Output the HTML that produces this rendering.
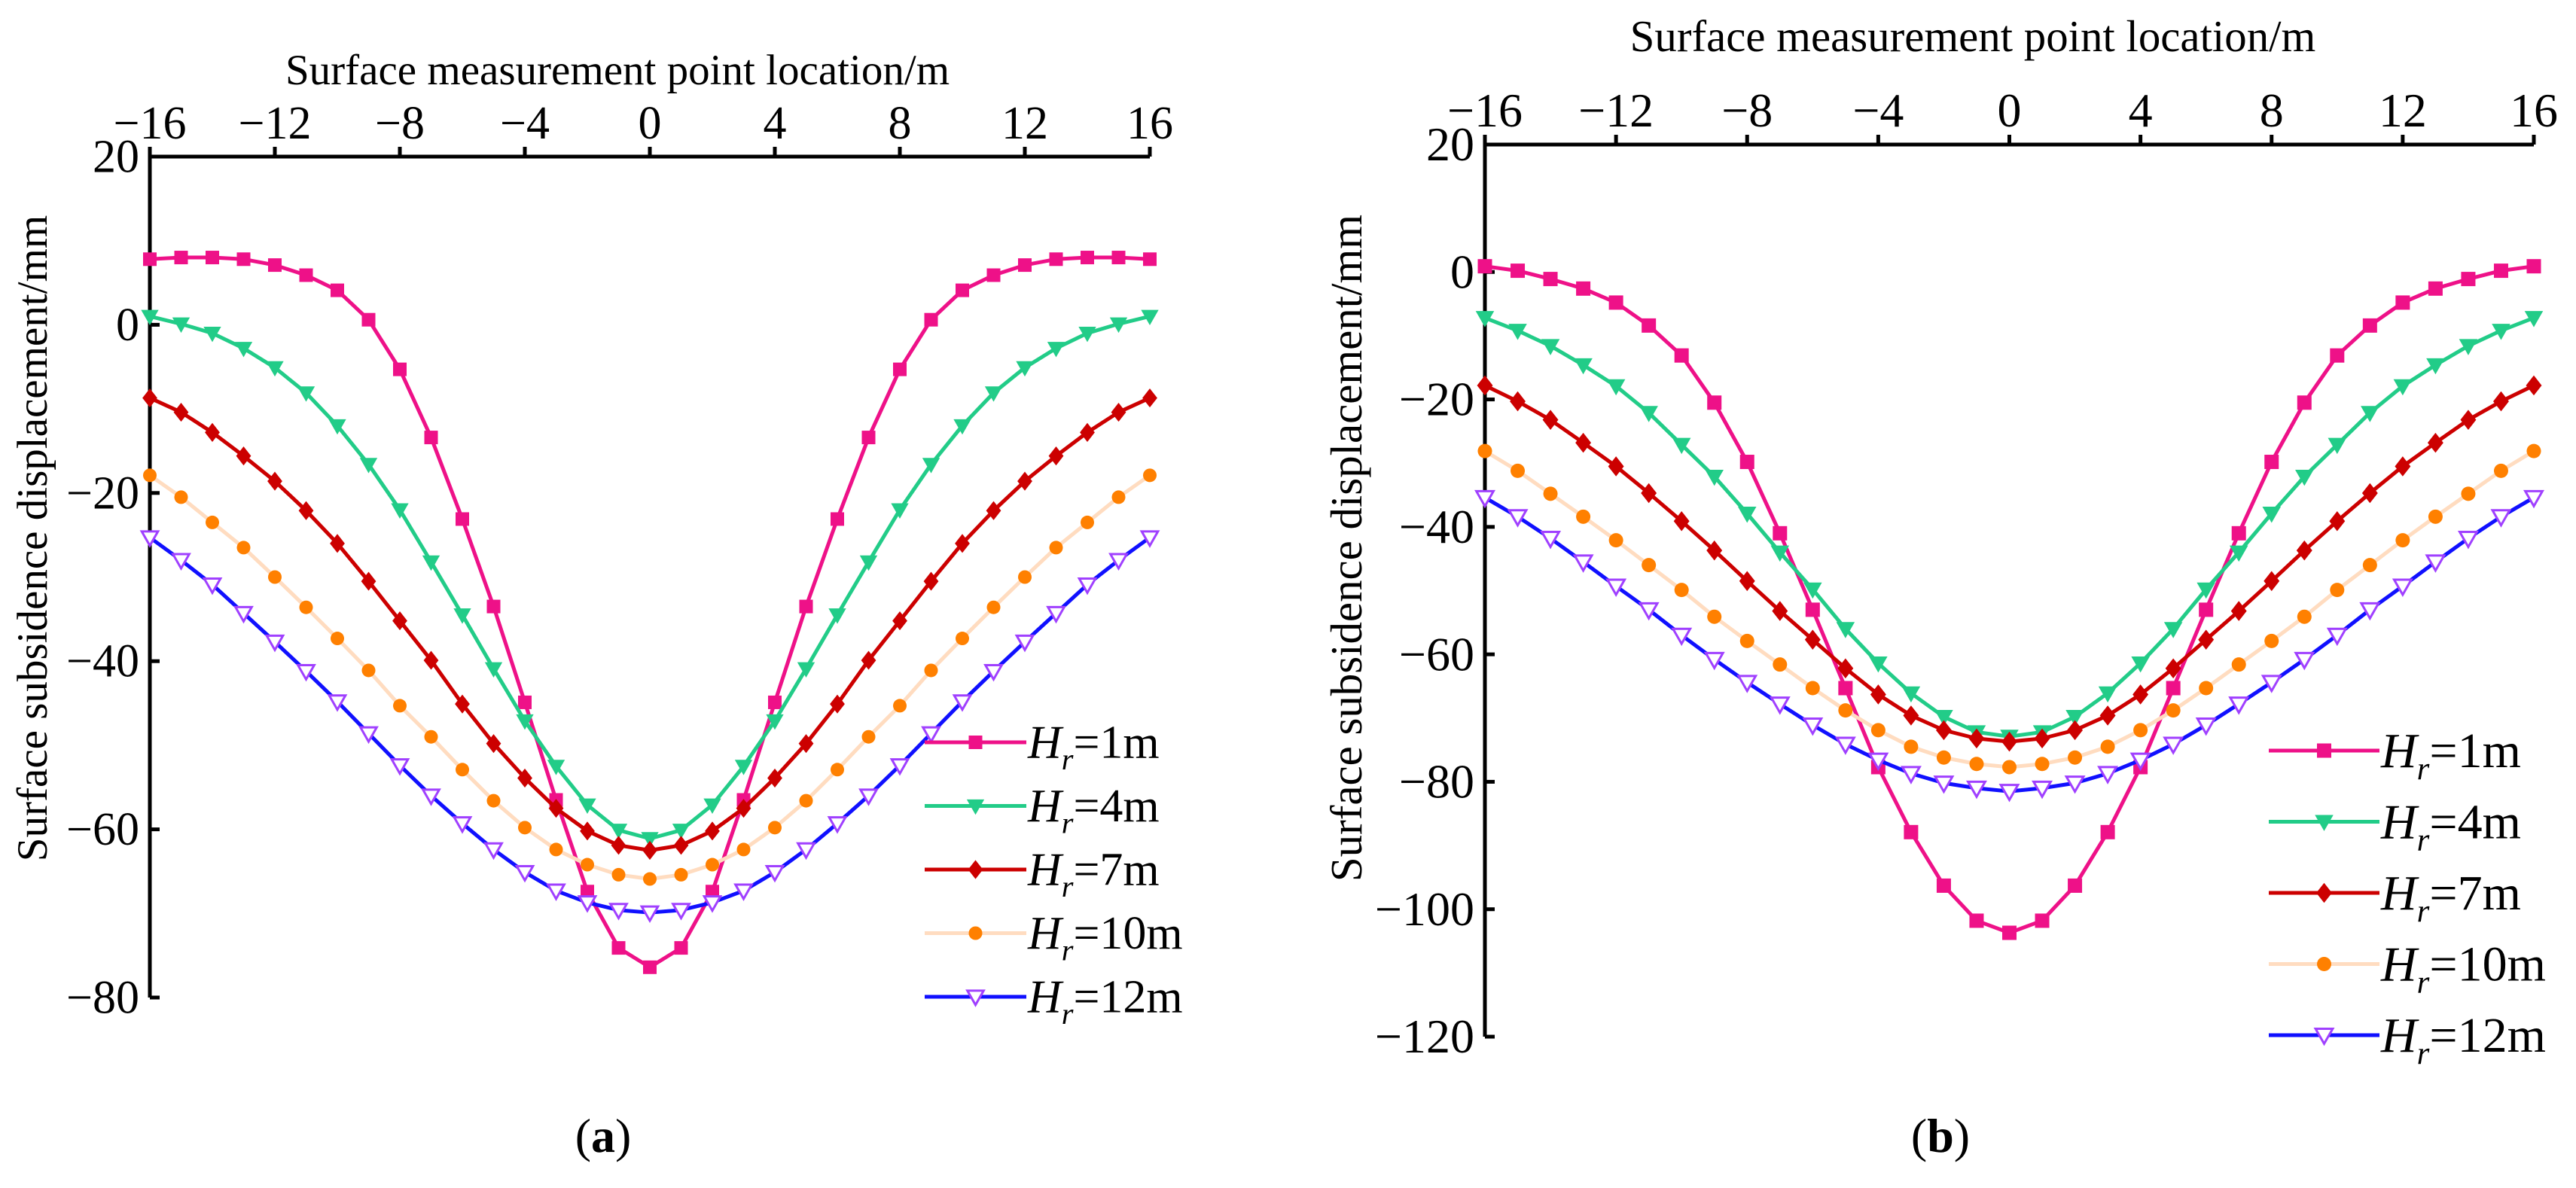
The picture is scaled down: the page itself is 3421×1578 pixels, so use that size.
<!DOCTYPE html>
<html><head><meta charset="utf-8"><style>
html,body{margin:0;padding:0;background:#fff;}
svg{display:block;}
svg text{font-family:"Liberation Serif","DejaVu Serif",serif;}
</style></head><body>
<svg id="fig" width="3421" height="1578" viewBox="0 0 3421 1578" xmlns="http://www.w3.org/2000/svg" font-family="Liberation Serif, DejaVu Serif, serif">
<rect width="3421" height="1578" fill="#fff"/>
</svg>
<script>
const xCats=[-16,-15,-14,-13,-12,-11,-10,-9,-8,-7,-6,-5,-4,-3,-2,-1,0,1,2,3,4,5,6,7,8,9,10,11,12,13,14,15,16];
const xTicks=[-16,-12,-8,-4,0,4,8,12,16];
const yTicksA=[20,0,-20,-40,-60,-80];
const yTicksB=[20,0,-20,-40,-60,-80,-100,-120];
const seriesNames=["1m","4m","7m","10m","12m"];
const a1=[7.8,8.0,8.0,7.8,7.1,5.9,4.1,0.6,-5.3,-13.4,-23.1,-33.5,-44.9,-56.5,-67.4,-74.1,-76.4,-74.1,-67.4,-56.5,-44.9,-33.5,-23.1,-13.4,-5.3,0.6,4.1,5.9,7.1,7.8,8.0,8.0,7.8];
const a4=[1.0,0.1,-1.0,-2.8,-5.1,-8.1,-12.0,-16.6,-22.0,-28.2,-34.5,-40.9,-47.1,-52.5,-57.1,-60.1,-61.1,-60.1,-57.1,-52.5,-47.1,-40.9,-34.5,-28.2,-22.0,-16.6,-12.0,-8.1,-5.1,-2.8,-1.0,0.1,1.0];
const a7=[-8.7,-10.4,-12.8,-15.6,-18.6,-22.1,-26.0,-30.5,-35.2,-39.9,-45.1,-49.8,-53.9,-57.5,-60.2,-61.9,-62.5,-61.9,-60.2,-57.5,-53.9,-49.8,-45.1,-39.9,-35.2,-30.5,-26.0,-22.1,-18.6,-15.6,-12.8,-10.4,-8.7];
const a10=[-17.9,-20.5,-23.5,-26.5,-30.0,-33.6,-37.3,-41.1,-45.3,-49.0,-52.9,-56.6,-59.8,-62.4,-64.2,-65.4,-65.9,-65.4,-64.2,-62.4,-59.8,-56.6,-52.9,-49.0,-45.3,-41.1,-37.3,-33.6,-30.0,-26.5,-23.5,-20.5,-17.9];
const a12=[-25.3,-28.0,-30.9,-34.3,-37.7,-41.2,-44.8,-48.6,-52.4,-56.0,-59.3,-62.4,-65.1,-67.3,-68.7,-69.6,-69.9,-69.6,-68.7,-67.3,-65.1,-62.4,-59.3,-56.0,-52.4,-48.6,-44.8,-41.2,-37.7,-34.3,-30.9,-28.0,-25.3];
const b1=[0.9,0.2,-1.1,-2.6,-4.8,-8.4,-13.1,-20.5,-29.8,-41.0,-53.0,-65.3,-77.7,-87.9,-96.3,-101.8,-103.7,-101.8,-96.3,-87.9,-77.7,-65.3,-53.0,-41.0,-29.8,-20.5,-13.1,-8.4,-4.8,-2.6,-1.1,0.2,0.9];
const b4=[-7.2,-9.2,-11.6,-14.6,-17.9,-22.1,-27.1,-32.1,-37.9,-44.0,-49.8,-56.0,-61.4,-66.1,-69.8,-72.2,-72.9,-72.2,-69.8,-66.1,-61.4,-56.0,-49.8,-44.0,-37.9,-32.1,-27.1,-22.1,-17.9,-14.6,-11.6,-9.2,-7.2];
const b7=[-17.8,-20.3,-23.2,-26.8,-30.5,-34.7,-39.1,-43.7,-48.5,-53.2,-57.7,-62.2,-66.3,-69.6,-71.9,-73.2,-73.7,-73.2,-71.9,-69.6,-66.3,-62.2,-57.7,-53.2,-48.5,-43.7,-39.1,-34.7,-30.5,-26.8,-23.2,-20.3,-17.8];
const b10=[-28.1,-31.2,-34.8,-38.4,-42.1,-46.0,-49.9,-54.1,-57.9,-61.6,-65.3,-68.8,-71.9,-74.5,-76.2,-77.2,-77.7,-77.2,-76.2,-74.5,-71.9,-68.8,-65.3,-61.6,-57.9,-54.1,-49.9,-46.0,-42.1,-38.4,-34.8,-31.2,-28.1];
const b12=[-35.4,-38.4,-41.8,-45.5,-49.3,-53.0,-57.0,-60.8,-64.4,-67.8,-71.1,-74.1,-76.6,-78.7,-80.2,-81.0,-81.5,-81.0,-80.2,-78.7,-76.6,-74.1,-71.1,-67.8,-64.4,-60.8,-57.0,-53.0,-49.3,-45.5,-41.8,-38.4,-35.4];

const NS="http://www.w3.org/2000/svg";
const svg=document.getElementById('fig');
const FONT='"Liberation Serif","DejaVu Serif",serif';
function mk(tag,attrs,parent){const e=document.createElementNS(NS,tag);for(const k in attrs)e.setAttribute(k,attrs[k]);if(tag==='text')e.style.fontFamily=FONT;(parent||svg).appendChild(e);return e;}
const styles=[
 {line:"#ee1188",fill:"#ee1188",stroke:"#ee1188",m:"square"},
 {line:"#22cc88",fill:"#22cc88",stroke:"#22cc88",m:"tri"},
 {line:"#cc0000",fill:"#cc0000",stroke:"#cc0000",m:"diamond"},
 {line:"#ffdcc0",fill:"#ff8000",stroke:"#ff8000",m:"circle"},
 {line:"#1010ff",fill:"#ffffff",stroke:"#a040ff",m:"otri"}];
function marker(g,t,x,y,st,s){
 let e;
 if(t==="square"){e=mk('rect',{x:x-s*0.5,y:y-s*0.5,width:s,height:s,fill:st.fill},g);}
 else if(t==="tri"||t==="otri"){e=mk('polygon',{points:`${x-s*0.6},${y-s*0.45} ${x+s*0.6},${y-s*0.45} ${x},${y+s*0.6}`,fill:st.fill,stroke:st.stroke,'stroke-width':t==="otri"?3:1},g);}
 else if(t==="diamond"){e=mk('polygon',{points:`${x},${y-s*0.7} ${x+s*0.55},${y} ${x},${y+s*0.7} ${x-s*0.55},${y}`,fill:st.fill},g);}
 else {e=mk('circle',{cx:x,cy:y,r:s*0.5,fill:st.fill},g);}
 
 
}
function chart(cfg){
 const g=mk('g',{});
 
 
 const sx=v=>cfg.x0+(v-(-16))/32*(cfg.x1-cfg.x0);
 const sy=v=>cfg.y0+(20-v)/(20-cfg.ymin)*(cfg.y1-cfg.y0);
 const ax=mk('path',{d:`M${cfg.x0},${cfg.y0-12} L${cfg.x0},${cfg.y1} M${cfg.x0-2},${cfg.y0} L${cfg.x1},${cfg.y0}`,stroke:"#000",'stroke-width':5,fill:"none"},g);
 
 
 xTicks.forEach(v=>{
  const t=mk('line',{x1:sx(v),x2:sx(v),y1:cfg.y0,y2:cfg.y0-13,stroke:"#000",'stroke-width':5},g);
  
  
  const l=mk('text',{x:sx(v),y:cfg.y0-24,'font-size':cfg.fs,'text-anchor':'middle'},g);
  l.textContent=(v<0?"\u2212":"")+Math.abs(v);
  
  
 });
 cfg.yt.forEach(v=>{
  const t=mk('line',{x1:cfg.x0,x2:cfg.x0+13,y1:sy(v),y2:sy(v),stroke:"#000",'stroke-width':5},g);
  
  
  const l=mk('text',{x:cfg.x0-14,y:sy(v)+cfg.fs*0.33,'font-size':cfg.fs,'text-anchor':'end'},g);
  l.textContent=(v<0?"\u2212":"")+Math.abs(v);
  
  
 });
 const xt=mk('text',{x:cfg.xtx,y:cfg.xty,'font-size':cfg.fs*0.92,'text-anchor':'middle'},g);
 xt.textContent="Surface measurement point location/m";
 
 
 const yt=mk('text',{x:0,y:0,'font-size':cfg.fs*0.92,'text-anchor':'middle',transform:`translate(${cfg.ytx},${cfg.yty}) rotate(-90)`},g);
 yt.textContent="Surface subsidence displacement/mm";
 
 
 cfg.series.forEach((arr,i)=>{
  const st=styles[i];
  const sg=mk('g',{},g);
  
  
  const p=mk('polyline',{points:arr.map((v,j)=>sx(xCats[j])+","+sy(v)).join(" "),fill:"none",stroke:st.line,'stroke-width':5,'stroke-linejoin':'round'},sg);
  
  
  arr.forEach((v,j)=>marker(sg,st.m,sx(xCats[j]),sy(v),st,cfg.ms));
 });
 const lg=mk('g',{},g);
 
 
 seriesNames.forEach((n,i)=>{
  const st=styles[i];const y=cfg.ly+i*cfg.ld;
  const eg=mk('g',{},lg);
  
  
  mk('line',{x1:cfg.lx0,x2:cfg.lx1,y1:y,y2:y,stroke:st.line,'stroke-width':5},eg);
  marker(eg,st.m,(cfg.lx0+cfg.lx1)/2,y,st,cfg.ms);
  const t=mk('text',{x:cfg.lx1+2,y:y+cfg.lfs*0.33,'font-size':cfg.lfs},eg);
  const h=mk('tspan',{'font-style':'italic'},t);h.textContent="H";
  const r=mk('tspan',{'font-style':'italic','font-size':cfg.lfs*0.65,dy:cfg.lfs*0.25},t);r.textContent="r";
  const rest=mk('tspan',{dy:-cfg.lfs*0.25},t);rest.textContent="="+n;
 });
 const cap=mk('text',{x:cfg.capx,y:1530,'font-size':64,'text-anchor':'middle'},g);
 
 
 const c1=mk('tspan',{},cap);c1.textContent="(";
 const c2=mk('tspan',{'font-weight':'bold'},cap);c2.textContent=cfg.cap;
 const c3=mk('tspan',{},cap);c3.textContent=")";
}
chart({name:'chart-a',x0:199,x1:1527,y0:208,y1:1325,ymin:-80,yt:yTicksA,fs:62,xtx:820,xty:112,ytx:62,yty:715,
 series:[a1,a4,a7,a10,a12],ms:18,lx0:1228,lx1:1363,ly:986,ld:84.5,lfs:62,capx:801,cap:'a'});
chart({name:'chart-b',x0:1972,x1:3365,y0:192,y1:1377,ymin:-120,yt:yTicksB,fs:64,xtx:2620,xty:68,ytx:1808,yty:728,
 series:[b1,b4,b7,b10,b12],ms:19,lx0:3013,lx1:3160,ly:997,ld:94.5,lfs:66,capx:2577,cap:'b'});
</script>
</body></html>
